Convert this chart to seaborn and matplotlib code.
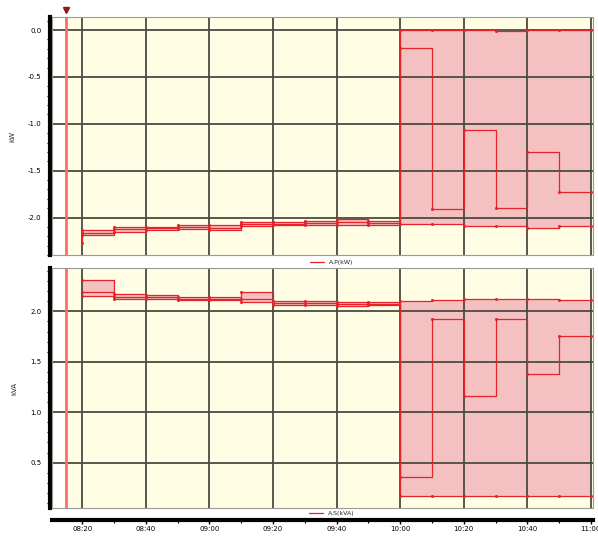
import numpy as np
import pandas as pd
import matplotlib
matplotlib.use("Agg")
import matplotlib.pyplot as plt
import matplotlib.dates as mdates
from matplotlib.lines import Line2D
from matplotlib.patches import Rectangle
import seaborn as sns

# ---------------- data ----------------
interval_starts = ["08:20", "08:30", "08:40", "08:50", "09:00", "09:10", "09:20", "09:30",
                   "09:40", "09:50", "10:00", "10:10", "10:20", "10:30", "10:40", "10:50"]
end_time = "11:00"
marker_time = "08:15"

p_max = [-2.135, -2.10, -2.10, -2.085, -2.085, -2.05, -2.05, -2.035,
         -2.02, -2.04, 0.0, 0.0, 0.0, -0.005, 0.0, 0.0]
p_avg = [-2.16, -2.125, -2.115, -2.10, -2.11, -2.07, -2.065, -2.06,
         -2.05, -2.06, -0.19, -1.91, -1.07, -1.90, -1.30, -1.73]
p_min = [-2.185, -2.15, -2.13, -2.12, -2.13, -2.09, -2.08, -2.08,
         -2.08, -2.08, -2.07, -2.07, -2.09, -2.09, -2.11, -2.09]
p_start = -2.27

s_max = [2.31, 2.17, 2.16, 2.14, 2.14, 2.195, 2.10, 2.10,
         2.09, 2.09, 2.10, 2.11, 2.12, 2.12, 2.12, 2.11]
s_avg = [2.19, 2.14, 2.14, 2.125, 2.125, 2.12, 2.08, 2.08,
         2.07, 2.075, 0.36, 1.92, 1.16, 1.92, 1.38, 1.76]
s_min = [2.155, 2.12, 2.12, 2.11, 2.11, 2.09, 2.06, 2.06,
         2.05, 2.06, 0.17, 0.17, 0.17, 0.17, 0.17, 0.17]

# ---------------- style ----------------
RED = "#E3242B"
FILL = "#F5C0C0"
BG = "#FFFDE4"
GRID = "#4a4a42"

sns.set_theme(style="white")
plt.rcParams["font.family"] = ["DejaVu Sans"]

day = "2024-01-01 "
t = pd.to_datetime([day + s for s in interval_starts + [end_time]])
t_mark = pd.Timestamp(day + marker_time)
xmin = pd.Timestamp(day + "08:10:30")
xmax = pd.Timestamp(day + "11:00:40")


def ext(v):
    return list(v) + [v[-1]]


def make_df(mx, av, mn):
    frames = []
    for name, vals in (("max", mx), ("avg", av), ("min", mn)):
        frames.append(pd.DataFrame({"time": t, "value": ext(vals), "stat": name}))
    return pd.concat(frames, ignore_index=True)


fig = plt.figure(figsize=(5.98, 5.36), dpi=100)
fig.patch.set_facecolor("white")
ax1 = fig.add_axes([52 / 598, 1 - 255 / 536, 541 / 598, 238 / 536])
ax2 = fig.add_axes([52 / 598, 1 - 508 / 536, 541 / 598, 240 / 536])

panels = [
    (ax1, p_max, p_avg, p_min, (-2.4, 0.14), "kW", "A.P(kW)", 1 - 262 / 536),
    (ax2, s_max, s_avg, s_min, (0.05, 2.43), "kVA", "A.S(kVA)", 1 - 513 / 536),
]

for ax, mx, av, mn, ylim, ylabel, leg, legy in panels:
    ax.set_facecolor(BG)
    ax.axvspan(xmin, t_mark, color="white", zorder=0)
    ax.fill_between(t, ext(mn), ext(mx), step="post", color=FILL, zorder=1, linewidth=0)
    df = make_df(mx, av, mn)
    sns.lineplot(data=df, x="time", y="value", units="stat", estimator=None,
                 color=RED, drawstyle="steps-post", linewidth=0.9,
                 marker="o", markersize=2.2, markeredgewidth=0,
                 legend=False, ax=ax, zorder=3, sort=False)
    ax.axvline(t_mark, color="#FF6B6B", linewidth=2, zorder=4)
    ax.set_xlim(xmin, xmax)
    ax.set_ylim(*ylim)
    ax.yaxis.set_major_locator(matplotlib.ticker.MultipleLocator(0.5))
    ax.yaxis.set_minor_locator(matplotlib.ticker.MultipleLocator(0.1))
    ax.yaxis.set_major_formatter(matplotlib.ticker.FormatStrFormatter("%.1f"))
    ax.xaxis.set_major_locator(mdates.MinuteLocator(byminute=[0, 20, 40]))
    ax.xaxis.set_minor_locator(mdates.MinuteLocator(byminute=[10, 30, 50]))
    ax.xaxis.set_major_formatter(mdates.DateFormatter("%H:%M"))
    ax.grid(True, which="major", color=GRID, linewidth=1.3, zorder=2)
    ax.set_axisbelow(False)
    for gl in ax.get_xgridlines() + ax.get_ygridlines():
        gl.set_zorder(2)
    ax.set_xlabel("")
    ax.set_ylabel(ylabel, fontsize=5, labelpad=9)
    for sp in ("top", "right", "bottom"):
        ax.spines[sp].set_visible(False)
    ax.spines["left"].set_position(("outward", 1.5))
    ax.spines["left"].set_linewidth(3)
    ax.spines["left"].set_color("black")
    ax.tick_params(axis="y", which="major", direction="out", length=4, width=1,
                   labelsize=5, pad=2, colors="black")
    ax.tick_params(axis="y", which="minor", direction="out", length=2.5, width=0.8,
                   left=True, colors="black")
    ax.add_patch(Rectangle((0, 0), 1, 1, transform=ax.transAxes, fill=False,
                           edgecolor="#9a9a90", linewidth=0.8, zorder=5, clip_on=False))
    handle = Line2D([0], [0], color=RED, linewidth=0.9)
    fig.legend([handle], [leg], loc="center", bbox_to_anchor=(0.555, legy),
               frameon=False, fontsize=4.5, handlelength=2.2, handletextpad=0.8)

# top panel: no x tick labels
ax1.tick_params(axis="x", which="both", bottom=False, labelbottom=False)

# start spike of the average series
ax1.plot([t[0], t[0]], [p_start, p_avg[0]], color=RED, linewidth=0.9,
         marker="o", markersize=2.2, markeredgewidth=0, zorder=3)

# bottom x axis with an offset thick spine
ax2.spines["bottom"].set_visible(True)
ax2.spines["bottom"].set_position(("outward", 8.6))
ax2.spines["bottom"].set_linewidth(3)
ax2.spines["bottom"].set_color("black")
ax2.tick_params(axis="x", which="major", direction="out", length=3, width=1,
                labelsize=5, pad=1.5, colors="black", bottom=True)
ax2.tick_params(axis="x", which="minor", direction="out", length=2.5, width=0.8,
                bottom=True, colors="black")

# cursor marker above the top panel
ax1.plot([t_mark], [1.03], marker="v", color="#8B1A1A", markersize=5,
         transform=ax1.get_xaxis_transform(), clip_on=False, zorder=6)

fig.savefig("out.png", dpi=100, facecolor="white")
